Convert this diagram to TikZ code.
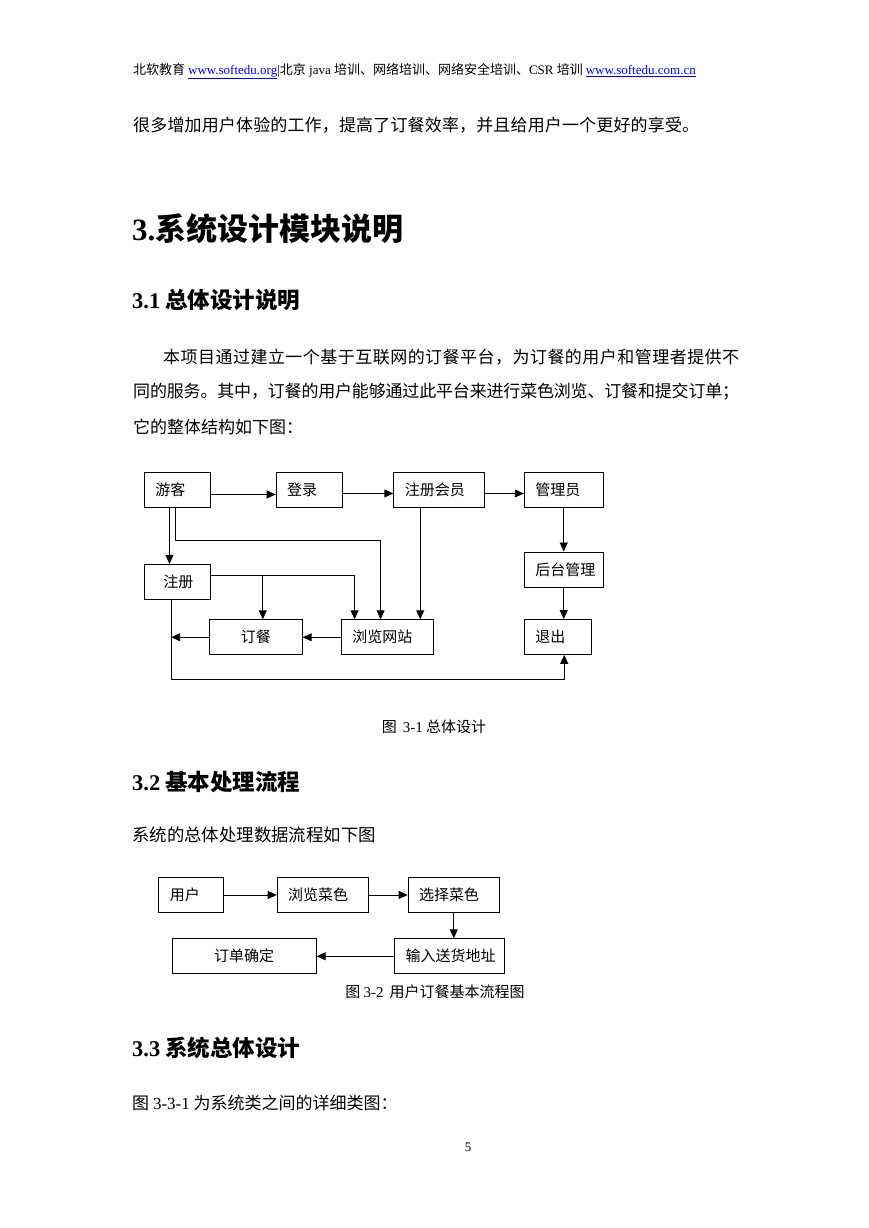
\documentclass[tikz,border=0pt]{standalone}
\usepackage{fontspec}
\setmainfont{Liberation Serif}
\newfontfamily\cjk{Noto Sans CJK SC}
\usetikzlibrary{positioning, arrows.meta}
\definecolor{linkblue}{RGB}{0,0,255}
\newcommand{\latn}[1]{{\rmfamily #1}}
% spread a line of characters to a given width
\def\spreadloop#1{\ifx\relax#1\else#1\hskip 0pt plus 1fil minus 2pt\relax\expandafter\spreadloop\fi}
\newcommand{\spreadline}[2]{\hbox to #1{\spreadloop#2\relax\unskip}}
\tikzset{
	box/.style={draw, line width=0.9pt, minimum height=35pt, inner xsep=11pt, inner ysep=0pt, align=left, font=\fontsize{15}{15}\selectfont\cjk},
	arrow/.style={-{Triangle[length=9pt, width=8pt]}, line width=0.9pt},
	body/.style={inner sep=0pt, anchor=west, font=\fontsize{17}{17}\selectfont\cjk},
	head/.style={inner sep=0pt, anchor=west, font=\fontsize{#1}{#1}\selectfont\cjk\bfseries},
	caption/.style={inner sep=0pt, font=\fontsize{15}{15}\selectfont\cjk}
}
\begin{document}
\begin{tikzpicture}[x=1pt, y=-1pt]
	\fill[white] (0,0) rectangle (869,1228);
	\useasboundingbox (0,0) rectangle (869,1228);
	
	% page header and text above the first figure
	\node[body, font=\fontsize{13}{13}\selectfont\cjk] (header) at (133,71) {北软教育 \latn{\color{linkblue}\underline{www.softedu.org}}\latn{|}北京\latn{ java }培训、网络培训、网络安全培训、\latn{CSR }培训 \latn{\color{linkblue}\underline{www.softedu.com.cn}}};
	\node[body] (intro) at (133,125) {\spreadline{566pt}{很多增加用户体验的工作，提高了订餐效率，并且给用户一个更好的享受。}};
	\node[head=31] (sec3) at (132,229) {\latn{3.}系统设计模块说明};
	\node[head=22.5] (sec31) at (132,300) {\latn{3.1} 总体设计说明};
	\node[body] (para1) at (163,357) {\spreadline{576pt}{本项目通过建立一个基于互联网的订餐平台，为订餐的用户和管理者提供不}};
	\node[body] (para2) at (133,392) {\spreadline{606pt}{同的服务。其中，订餐的用户能够通过此平台来进行菜色浏览、订餐和提交订单；}};
	\node[body] (para3) at (133,427) {它的整体结构如下图：};
	
	% figure 3-1
	\node[box, text width=44pt, anchor=north west] (guest) at (144,472) {游客};
	\node[box, text width=44pt, right=64.8pt of guest] (login) {登录};
	\node[box, text width=69pt, right=50.7pt of login] (member) {注册会员};
	\node[box, text width=57pt, right=38.6pt of member] (admin) {管理员};
	\node[box, text width=44pt, below=56pt of guest] (reg) {\hspace*{8pt}注册};
	\node[box, text width=57pt, below=43.6pt of admin] (backend) {后台管理};
	\node[box, text width=44.7pt, below=31.6pt of backend.south west, anchor=north west] (quit) {退出};
	\node[box, text width=70.3pt, anchor=north west] (browse) at (341,619.3) {浏览网站};
	\node[box, text width=70.7pt, align=center, left=38.4pt of browse] (order) {订餐};
	\coordinate (regout) at ([xshift=-6.3pt]reg.south);
	
	\draw[arrow] ([yshift=-4.5pt]guest.east) -- ([yshift=-4.5pt]login.west);
	\draw[arrow] ([yshift=-3.5pt]login.east) -- ([yshift=-3.5pt]member.west);
	\draw[arrow] ([yshift=-3.5pt]member.east) -- ([yshift=-3.5pt]admin.west);
	\draw[arrow] ([xshift=-8pt]guest.south) -- ([xshift=-8pt]reg.north);
	\draw[arrow] ([xshift=-2pt]guest.south) -- ++(0,33) -| ([xshift=-7pt]browse.north);
	\draw[arrow] ([yshift=6pt]reg.east) -| ([xshift=7pt]order.north);
	\draw[arrow] ([yshift=6pt]reg.east) -| ([xshift=-33pt]browse.north);
	\draw[arrow] ([xshift=-19pt]member.south) -- ([xshift=-19pt]member.south |- browse.north);
	\draw[arrow] (admin.south) -- (admin.south |- backend.north);
	\draw[arrow] (backend.south) -- (backend.south |- quit.north);
	\draw[arrow] (browse.west) -- (order.east);
	\draw[arrow] (order.west) -- (order.west -| regout);
	\draw[arrow] (regout) -- ++(0,80) -| ([xshift=6.6pt]quit.south);
	
	\node[caption] (cap1) at (434,727) {图\hspace{6pt}\latn{3-1} 总体设计};
	\node[head=22.5] (sec32) at (132,781.7) {\latn{3.2} 基本处理流程};
	\node[body, font=\fontsize{17.4}{17.4}\selectfont\cjk] (flowtext) at (132,835) {系统的总体处理数据流程如下图};
	
	% figure 3-2
	\node[box, text width=43pt, anchor=north west] (user) at (158.3,877) {用户};
	\node[box, text width=69.6pt, right=52.5pt of user] (browsemenu) {浏览菜色};
	\node[box, text width=69.3pt, right=38.5pt of browsemenu] (pickmenu) {选择菜色};
	\node[box, text width=88pt, below=25.4pt of pickmenu, xshift=-4.3pt] (address) {输入送货地址};
	\node[box, text width=122pt, align=center, left=77.4pt of address] (confirm) {订单确定};
	
	\draw[arrow] (user) -- (browsemenu);
	\draw[arrow] (browsemenu) -- (pickmenu);
	\draw[arrow] (pickmenu.south) -- (pickmenu.south |- address.north);
	\draw[arrow] (address) -- (confirm);
	
	\node[caption] (cap2) at (435,992) {图 \latn{3-2}\hspace{6pt}用户订餐基本流程图};
	\node[head=22.5] (sec33) at (132,1048) {\latn{3.3} 系统总体设计};
	\node[body] (classtext) at (132,1103) {图 \latn{3-3-1} 为系统类之间的详细类图：};
	\node[inner sep=0pt, font=\fontsize{13}{13}\selectfont] (pagenum) at (468,1147) {5};
\end{tikzpicture}
\end{document}
